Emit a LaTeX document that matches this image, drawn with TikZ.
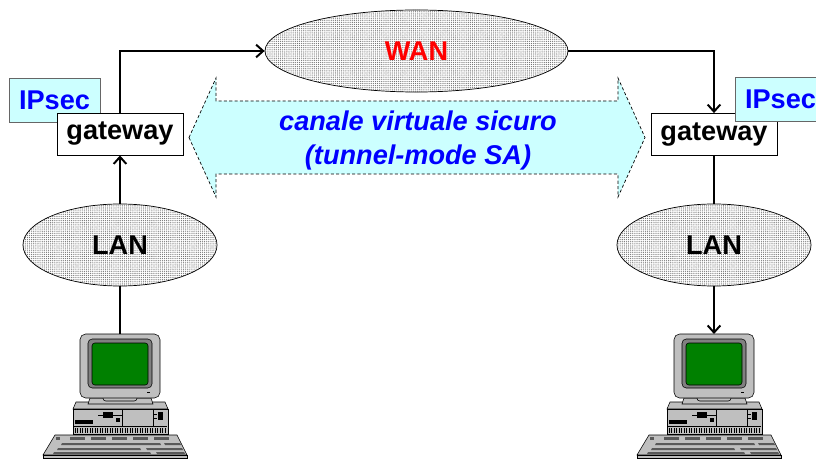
\documentclass[tikz,border=0pt]{standalone}
\usepackage{fontspec}
\setmainfont{Liberation Sans}
\usetikzlibrary{shapes.geometric,arrows.meta,patterns.meta}
\definecolor{tunnelcyan}{rgb}{0.8,1,1}
\definecolor{ipblue}{rgb}{0,0,1}
\definecolor{wanred}{rgb}{1,0,0}
\definecolor{screengreen}{rgb}{0,0.5,0}
\definecolor{casegray}{rgb}{0.75,0.75,0.75}
\definecolor{bezelgray}{rgb}{0.5,0.5,0.5}

\tikzset{
  pc/.pic={
    \draw[fill=casegray] (-44,68) -- (45,68) -- (48,75) -- (-47,75) -- cycle;
    \draw[fill=casegray] (-47,75) rectangle (48,100);
    \draw (-46,92) -- (47,92);
    \draw (2,75) -- (2,92);
    \draw (33,75) -- (33,92);
    \draw (-22,81) -- (2,81);
    \fill (-17,78) rectangle (-7,84);
    \fill (-4,84) rectangle (0,88);
    \fill (-45,86) rectangle (-27,90);
    \fill (38,78) rectangle (43,86);
    \draw (34,80) -- (37,80) (34,84) -- (37,84);
    \foreach \v in {-45,-42.5,...,46} \draw[line width=.5pt] (\v,94) -- (\v,99);
    \draw[fill=casegray] (-30,64) -- (31,64) -- (33,70) -- (-32,70) -- cycle;
    \draw[fill=casegray,rounded corners=2pt] (-17,60) rectangle (17,67);
    \draw[fill=casegray,rounded corners=4pt] (-40,0) rectangle (40,64);
    \draw[fill=bezelgray,rounded corners=3pt] (-32,5) rectangle (32,54);
    \draw[fill=screengreen,rounded corners=2pt] (-28,9) rectangle (28,51);
    \draw (27,58) -- (30,58);
    \draw[fill=casegray] (-65,101) -- (57,101) -- (67,121) -- (-77,121) -- cycle;
    \draw[fill=casegray] (-77,121) rectangle (67,124);
    \foreach \k in {0,...,4} \fill[black!65] (-50+\k*21,103) rectangle (-35+\k*21,105.5);
    \fill[black!65] (-64,103) rectangle (-60,105.5);
    \fill[black!65] (-58,109) -- (40,109) -- (41,111) -- (-59,111) -- cycle;
    \fill[black!65] (-62,114) -- (20,114) -- (21,116) -- (-63,116) -- cycle;
    \fill[black!65] (-66,118) -- (30,118) -- (31,120) -- (-67,120) -- cycle;
    \fill[black!65] (44,109) -- (60,109) -- (61,111) -- (45,111) -- cycle;
    \fill[black!65] (26,114) -- (62,114) -- (63,116) -- (27,116) -- cycle;
    \fill[black!65] (36,118) -- (64,118) -- (65,120) -- (37,120) -- cycle;
  }
}

\begin{document}
\begin{tikzpicture}[x=0.025cm,y=-0.025cm,
  lbl/.style={font=\fontsize{19.3}{23.5}\selectfont\bfseries},
  net/.style={ellipse,draw,line width=.5pt,preaction={fill=white},
    pattern={Dots[distance=1.5pt,radius=.45pt]},pattern color=black!55,inner sep=0pt,lbl},
  gwbox/.style={draw,fill=white,line width=.6pt,minimum width=3.15cm,minimum height=1.05cm,inner sep=0pt,lbl},
  ipbox/.style={draw=black!60,fill=tunnelcyan,line width=.6pt,minimum width=2.275cm,minimum height=1.1cm,inner sep=0pt,lbl,text=ipblue},
  link/.style={line width=1.4pt},
  >={Straight Barb[length=5pt,width=9pt,line width=1.4pt]}]
\useasboundingbox (0,0) rectangle (816,459);

\draw[dashed,dash pattern=on 2.2pt off 1.6pt,line width=.5pt,fill=tunnelcyan]
  (189,137.5) -- (216,78) -- (216,101) -- (618,101) -- (618,78) -- (645,137.5)
  -- (618,197) -- (618,174) -- (216,174) -- (216,197) -- cycle;
\node[lbl,text=ipblue,font=\fontsize{19.3}{23.5}\selectfont\bfseries\itshape,align=center] (chan) at (418,140.5) {canale virtuale sicuro\\(tunnel-mode SA)};

\node[net,minimum width=7.575cm,minimum height=2.05cm,text=wanred] (wan) at (416.5,51) {WAN};
\node[net,minimum width=4.85cm,minimum height=2.05cm] (lanL) at (120,245) {LAN};
\node[net,minimum width=4.85cm,minimum height=2.05cm] (lanR) at (714,245) {LAN};

\node[ipbox] (ipL) at (54.5,100) {IPsec};
\node[gwbox] (gwL) at (120,134) {gateway};
\node[gwbox] (gwR) at (714,134.5) {gateway};
\node[ipbox] (ipR) at (780.5,99.5) {IPsec};

\pic at (120,334) {pc};
\pic at (714,334) {pc};
\coordinate (pcL) at (120,334);
\coordinate (pcR) at (714,334);

\draw[link,->] (gwL.north) |- (wan.west);
\draw[link,->] (wan.east) -| (gwR.north);
\draw[link,->] (lanL.north) -- (gwL.south);
\draw[link] (gwR.south) -- (lanR.north);
\draw[link] (lanL.south) -- (pcL);
\draw[link,->] (lanR.south) -- (pcR);
\end{tikzpicture}
\end{document}
